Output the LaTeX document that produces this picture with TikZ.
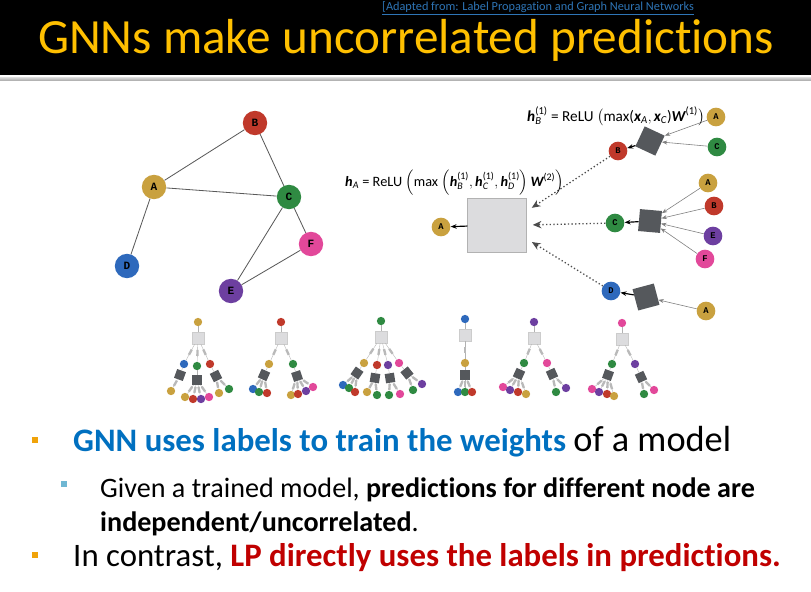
\documentclass[tikz,border=0pt]{standalone}
\usepackage{amsmath}
\usepackage{fontspec}
\setmainfont{Carlito}[Ligatures=NoCommon]
\newfontfamily\nodefont{Liberation Mono}
\usetikzlibrary{positioning,arrows.meta,calc}
\definecolor{slidetitle}{HTML}{FFC000}
\definecolor{bulletorange}{HTML}{F0A30A}
\definecolor{bulletblue}{HTML}{6FB7D3}
\definecolor{gnnblue}{HTML}{0070C0}
\definecolor{lpred}{HTML}{C00000}
\definecolor{linkblue}{HTML}{2E75B6}
\definecolor{nA}{HTML}{C9A13F}
\definecolor{nB}{HTML}{C0392B}
\definecolor{nC}{HTML}{2F8A42}
\definecolor{nD}{HTML}{2E69BC}
\definecolor{nE}{HTML}{6D3FA0}
\definecolor{nF}{HTML}{E2489A}
\definecolor{aggdark}{HTML}{55585C}
\definecolor{agglight}{HTML}{DCDCDE}

\newcommand{\bv}[1]{\text{\bfseries\itshape #1}}
\newcommand{\sx}[1]{\text{\itshape #1}}

\tikzset{
  gnode/.style={circle,fill=#1,inner sep=0pt,minimum size=7.3mm,font=\nodefont\bfseries\fontsize{9.5}{9.5}\selectfont},
  snode/.style={circle,fill=#1,inner sep=0pt,minimum size=5.6mm,font=\nodefont\bfseries\fontsize{7.5}{7.5}\selectfont},
  tnode/.style={circle,fill=#1,inner sep=0pt,minimum size=2.5mm},
  gedge/.style={draw=black!65,line width=0.7pt},
  bigagg/.style={draw=gray!60,fill=agglight,minimum width=17.7mm,minimum height=16.2mm,inner sep=0pt},
  darkagg/.style={fill=aggdark,minimum size=6.6mm,inner sep=0pt},
  tbox/.style={draw=gray!40,fill=agglight,minimum size=3.6mm,inner sep=0pt},
  tdark/.style={fill=aggdark,minimum size=2.8mm,inner sep=0pt},
  inarrow/.style={draw=gray,line width=0.5pt,-{Stealth[length=1.6mm]}},
  outarrow/.style={line width=1pt,-{Stealth[length=1.8mm]}},
  dotarrow/.style={draw=black!70,dotted,line width=1.1pt,-{Stealth[length=2.6mm,width=2.2mm]},shorten >=1.8mm},
  tedge/.style={draw=gray!60,line width=0.3pt},
  msg/.style={fill=gray!55,minimum width=1.8mm,minimum height=0.7mm,inner sep=0pt},
  bulletsq/.style={fill=#1,minimum size=2mm,inner sep=0pt},
}

\begin{document}
\begin{tikzpicture}[x=0.3mm,y=-0.3mm]
  \useasboundingbox (0,0) rectangle (811,591);
  \clip (0,0) rectangle (811,591);
  \fill[white] (0,0) rectangle (811,591);

  % header
  \fill[black] (0,0) rectangle (811,75);
  \shade[top color=gray!25,bottom color=gray!60] (0,77) rectangle (811,80);
  \node[anchor=base west,text=linkblue,inner sep=0pt,font=\fontsize{10.5}{10.5}\selectfont] (link) at (382,10)
    {\underline{[Adapted from: Label Propagation and Graph Neural Networks}};
  \node[anchor=base,text=slidetitle,inner sep=0pt,font=\fontsize{42}{42}\selectfont] (title) at (406,53)
    {GNNs make uncorrelated predictions};

  % input graph
  \node[gnode=nA] (A) at (154,187) {A};
  \node[gnode=nB] (B) at (255,123) {B};
  \node[gnode=nC] (C) at (289,197) {C};
  \node[gnode=nD] (D) at (127,266) {D};
  \node[gnode=nE] (E) at (231,291) {E};
  \node[gnode=nF] (F) at (311,244) {F};
  \draw[gedge] (A) -- (B) (A) -- (C) (A) -- (D) (B) -- (C) (C) -- (E) (C) -- (F) (E) -- (F);

  % computation graph of A
  \node[snode=nA] (hA) at (441,227) {A};
  \node[bigagg] (agg) at (497,225) {};
  \draw[outarrow] (agg) -- (hA);

  \node[snode=nB] (B1) at (618,151) {B};
  \node[darkagg,rotate=-25] (aggB) at (650,141) {};
  \node[snode=nA] (B1a) at (716,117) {A};
  \node[snode=nC] (B1c) at (717,147) {C};
  \draw[inarrow] (B1a) -- (aggB);
  \draw[inarrow] (B1c) -- (aggB);
  \draw[outarrow] (aggB) -- (B1);

  \node[snode=nC] (C1) at (615,223) {C};
  \node[darkagg,rotate=-5] (aggC) at (650,221) {};
  \node[snode=nA] (C1a) at (708,183) {A};
  \node[snode=nB] (C1b) at (714,206) {B};
  \node[snode=nE] (C1e) at (713,236) {E};
  \node[snode=nF] (C1f) at (705,259) {F};
  \foreach \n in {C1a,C1b,C1e,C1f}
    \draw[inarrow] (\n) -- (aggC);
  \draw[outarrow] (aggC) -- (C1);

  \node[snode=nD] (D1) at (611,291) {D};
  \node[darkagg,rotate=15] (aggD) at (646,297) {};
  \node[snode=nA] (D1a) at (706,311) {A};
  \draw[inarrow] (D1a) -- (aggD);
  \draw[outarrow] (aggD) -- (D1);

  \draw[dotarrow] (B1) -- (agg.25);
  \draw[dotarrow] (C1) -- (agg.east);
  \draw[dotarrow] (D1) -- (agg.-25);

  \node[anchor=base west,inner sep=0pt,font=\fontsize{13}{13}\selectfont] (eqB) at (527,121)
    {$\bv{h}_{\sx{B}}^{\text{(1)}}$ = ReLU $\big(\text{max(}\bv{x}_{\sx{A}},\bv{x}_{\sx{C}}\text{)}\bv{W}^{\text{(1)}}\big)$};
  \node[anchor=base west,inner sep=0pt,font=\fontsize{12.2}{12.2}\selectfont] (eqA) at (345,186)
    {$\bv{h}_{\sx{A}}$ = ReLU $\Big(\text{max }\Big(\bv{h}_{\sx{B}}^{\text{(1)}},\bv{h}_{\sx{C}}^{\text{(1)}},\bv{h}_{\sx{D}}^{\text{(1)}}\Big)\,\bv{W}^{\text{(2)}}\Big)$};

  % computation trees of every node
  \foreach \rx/\ry/\rc/\kids in {
    198/322/nA/{184/364/nD/180/375/{171/391/nA},197/366/nC/197/380/{185/397/nA,193/399/nB,201/399/nE,209/397/nF},210/364/nB/216/376/{219/393/nA,229/389/nC}},
    281/322/nB/{269/364/nA/264/375/{253/389/nD,259/392/nC,267/393/nB},293/364/nC/297/376/{291/395/nA,298/394/nB,306/391/nE,313/387/nF}},
    381/321/nC/{364/363/nA/357/373/{343/385/nD,349/388/nC,355/392/nB},377/365/nB/375/378/{367/392/nA,377/395/nC},388/365/nE/390/378/{389/395/nC,400/394/nF},399/363/nF/407/373/{413/390/nC,422/384/nE}},
    465/319/nD/{465/363/nA/465/375/{458/392/nD,465/392/nC,472/392/nB}},
    534/322/nE/{524/363/nC/519/374/{503/387/nF,510/390/nE,518/392/nB,526/394/nA},547/363/nF/552/374/{556/392/nC,566/388/nE}},
    622/323/nF/{612/364/nC/608/375/{592/389/nF,599/392/nE,607/394/nB,614/396/nA},635/364/nE/641/377/{644/394/nC,654/390/nF}}%
  }{
    \node[tnode=\rc] (r\rx) at (\rx,\ry) {};
    \node[tbox] (q\rx) at (\rx,\ry+16) {};
    \draw[tedge] (r\rx) -- (q\rx);
    \foreach \kx/\ky/\kc/\bx/\by/\leaves in \kids {
      \node[tnode=\kc] (k\rx-\kx) at (\kx,\ky) {};
      \draw[tedge] (q\rx) -- node[msg,sloped] {} (k\rx-\kx);
      \node[tdark,rotate={atan2(\ky-\by,\bx-\kx)}] (d\rx-\kx) at (\bx,\by) {};
      \draw[tedge] (k\rx-\kx) -- (d\rx-\kx);
      \foreach \lx/\ly/\lc in \leaves {
        \node[tnode=\lc] (l\rx-\lx) at (\lx,\ly) {};
        \draw[tedge] (d\rx-\kx) -- node[msg,sloped] {} (l\rx-\lx);
      }
    }
  }

  % bullets
  \node[bulletsq=bulletorange] (b1) at (35,440) {};
  \node[anchor=base west,inner sep=0pt,font=\fontsize{28}{28}\selectfont] (t1) at (73,451)
    {\textbf{\color{gnnblue}GNN uses labels to train the weights} {\fontsize{31}{31}\selectfont of a model}};
  \node[bulletsq=bulletblue] (b2) at (64,484) {};
  \node[anchor=base west,inner sep=0pt,font=\fontsize{24}{24}\selectfont] (t2) at (100,497)
    {Given a trained model, \textbf{predictions for different node are}};
  \node[anchor=base west,inner sep=0pt,font=\fontsize{24}{24}\selectfont] (t3) at (100,531)
    {\textbf{independent/uncorrelated}.};
  \node[bulletsq=bulletorange] (b3) at (35,555) {};
  \node[anchor=base west,inner sep=0pt,font=\fontsize{28}{28}\selectfont] (t4) at (73,566)
    {In contrast, \textbf{\color{lpred}LP directly uses the labels in predictions.}};
\end{tikzpicture}
\end{document}
